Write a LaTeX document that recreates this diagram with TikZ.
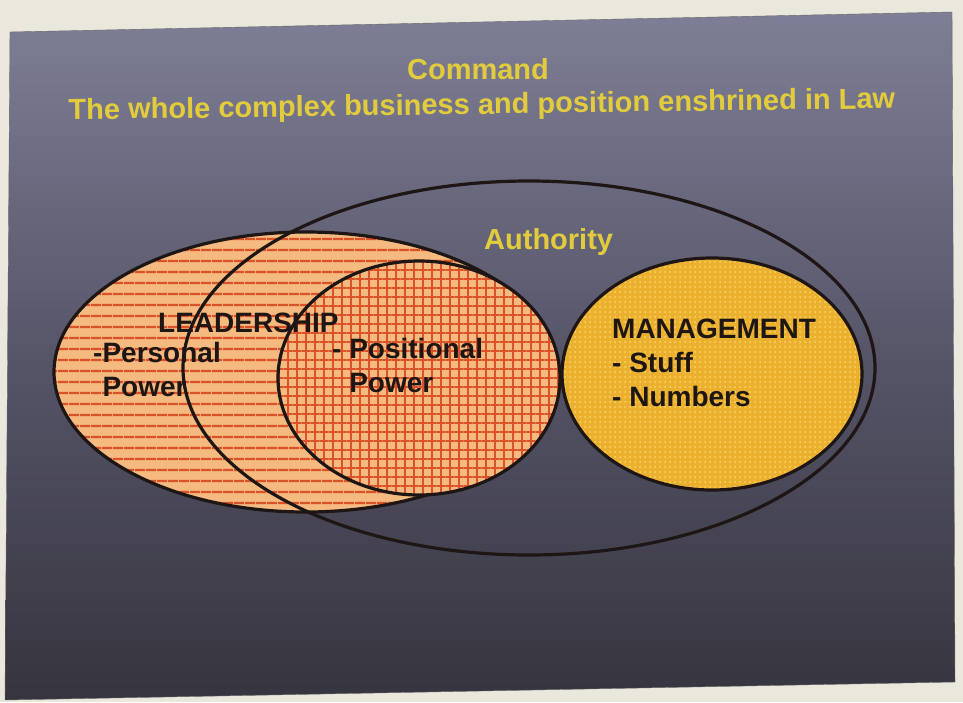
\documentclass[tikz,border=0pt]{standalone}
\usepackage{fontspec}
\setmainfont{Liberation Sans}
\usetikzlibrary{shapes.geometric,patterns.meta,positioning}
\definecolor{paper}{RGB}{234,231,221}
\definecolor{slidetop}{RGB}{126,126,150}
\definecolor{slidemid}{RGB}{86,85,104}
\definecolor{slidebot}{RGB}{54,52,62}
\definecolor{gold}{RGB}{226,204,62}
\definecolor{ink}{RGB}{30,22,20}
\definecolor{peach}{RGB}{244,186,128}
\definecolor{brick}{RGB}{220,82,40}
\definecolor{amber}{RGB}{234,176,46}
\definecolor{amberdot}{RGB}{250,214,108}
\tikzstyle{headline}=[text=gold,
                      inner sep=0pt,
                      font=\bfseries\fontsize{29}{34}\selectfont]
\tikzstyle{venntext}=[text=ink,
                      inner sep=0pt,
                      align=left,
                      font=\bfseries\fontsize{28}{34}\selectfont]
\tikzstyle{venn}=[ellipse, draw=ink, line width=3.2pt, inner sep=0pt]
\tikzstyle{leader}=[venn, preaction={fill=peach},
pattern={Lines[angle=0,distance=10.5pt,line width=2.4pt]}, pattern color=brick]
\tikzstyle{positional}=[venn, preaction={fill=peach},
pattern={Hatch[distance=9pt,line width=1.7pt]}, pattern color=brick]
\tikzstyle{manage}=[venn, preaction={fill=amber},
pattern={Dots[distance=5pt,radius=1pt]}, pattern color=amberdot]
\tikzstyle{authority}=[venn, fill=none]
\begin{document}
\begin{tikzpicture}[x=1pt,y=-1pt]
      % photographed slide
      \fill[paper] (0,0) rectangle (963,702);
      \useasboundingbox (0,0) rectangle (963,702);
      \shade[top color=slidetop,bottom color=slidebot,middle color=slidemid,draw=black!60]
        (10,32) -- (952,12) -- (955,682) -- (5,700) -- cycle;

      \node[headline, anchor=base] (command) at (478,79) {Command};
      \node[headline, anchor=base, rotate=0.8] (law) at (482,114) {The whole complex business and position enshrined in Law};

      % the sets
      \node[leader, minimum width=504pt, minimum height=280pt] (lead) at (306,372) {};
      \node[positional, minimum width=282pt, minimum height=234pt] (pos) at (419,378) {};
      \node[authority, minimum width=692pt, minimum height=374pt] (auth) at (529,368) {};
      \node[manage, minimum width=300pt, minimum height=232pt] (man) at (712,374) {};

      \node[headline, anchor=base west] (authname) at (484,249) {Authority};
      \node[venntext, anchor=base west] (leadname) at (158,332) {LEADERSHIP};
      \node[venntext, anchor=north west] (personal) at (93,342) {-Personal\\\hphantom{-}Power};
      \node[venntext, anchor=north west] (posname) at (332,338) {- Positional\\\hphantom{- }Power};
      \node[venntext, anchor=north west] (manname) at (612,319) {MANAGEMENT\\- Stuff\\- Numbers};
\end{tikzpicture}
\end{document}
